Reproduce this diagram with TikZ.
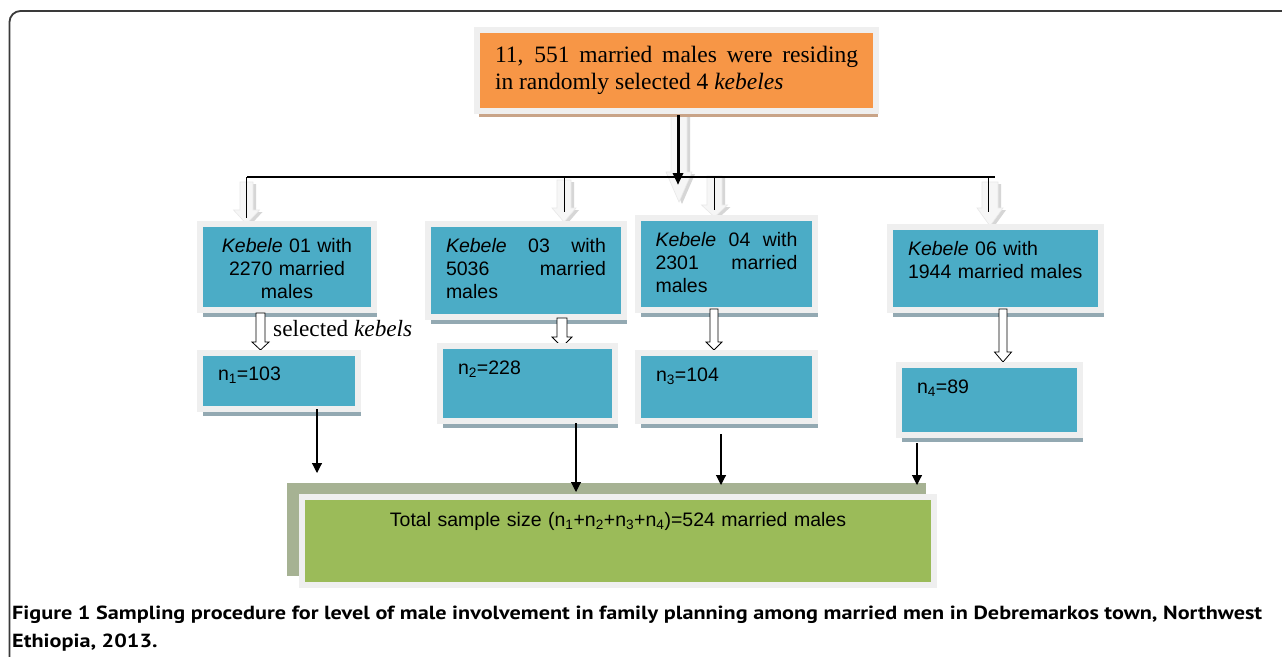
\documentclass[tikz,border=0pt]{standalone}
\usepackage{fontspec}
\usepackage{graphicx}
\setmainfont{Liberation Serif}
\setsansfont{Liberation Sans}
\newfontfamily\capfont{PT Sans}
\usetikzlibrary{arrows.meta, shadows}

\definecolor{kteal}{HTML}{4BACC6}
\definecolor{korange}{HTML}{F79646}
\definecolor{kgreen}{HTML}{9BBB59}
\definecolor{rimgray}{HTML}{EFEFEF}
\definecolor{tealshade}{HTML}{93A9B2}
\definecolor{orangeshade}{HTML}{C9A488}
\definecolor{greenback}{HTML}{A6B293}
\definecolor{framegray}{HTML}{3A3A3A}

\newlength{\caplen}
% block arrow: [style] x, top, head, tip, half shaft, half head
\newcommand{\blockarrow}[7][]{%
  \path[#1] (#2-#6,#3) -- (#2+#6,#3) -- (#2+#6,#4) -- (#2+#7,#4)
    -- (#2,#5) -- (#2-#7,#4) -- (#2-#6,#4) -- cycle;}
\newcommand{\greyarrow}[6]{%
  \blockarrow[fill=gray!32, shift={(3,2)}]{#1}{#2}{#3}{#4}{#5}{#6}%
  \blockarrow[fill=gray!7, draw=gray!18, line width=0.6pt]{#1}{#2}{#3}{#4}{#5}{#6}}

\begin{document}
\begin{tikzpicture}[x=1pt, y=-1pt,
        panel/.style={anchor=north west, draw=rimgray, line width=6pt, outer sep=0pt,
          inner ysep=0pt, inner xsep=18pt, align=left, font=\sffamily\fontsize{19.5}{23}\selectfont},
        kebele/.style={panel, fill=kteal,
          drop shadow={shadow xshift=3pt, shadow yshift=-7pt, fill=tealshade, opacity=1}},
        popbox/.style={panel, fill=korange, font=\rmfamily\fontsize{23.5}{27}\selectfont,
          drop shadow={shadow xshift=2pt, shadow yshift=-6pt, fill=orangeshade, opacity=1}},
        sumbox/.style={panel, fill=kgreen, align=center},
        hollow/.style={draw=black, fill=white, line width=0.8pt},
        forkline/.style={line width=1.3pt},
        trunk/.style={line width=3pt, -{Triangle[width=10pt, length=12pt]}},
        dropline/.style={line width=1pt},
        link/.style={line width=1.1pt, -{Triangle[width=10pt, length=10pt]}}
    ]
    \fill[white] (0,0) rectangle (1282,656);
    \useasboundingbox (0,0) rectangle (1282,656);
    \draw[framegray, line width=1.8pt, rounded corners=11pt] (1320,11) -- (9.5,11) -- (9.5,700);

    % Caption
    \node[anchor=base west, inner sep=0pt] (caption) at (12,619) {%
      \capfont\bfseries\fontsize{19}{28}\selectfont
      \settowidth{\caplen}{Figure 1 Sampling procedure for level of male involvement in family planning among married men in Debremarkos town, Northwest}%
      \edef\capscale{\fpeval{1250pt/\caplen}}%
      \scalebox{\capscale}[1]{\begin{tabular}[t]{@{}l@{}}Figure 1 Sampling procedure for level of male involvement in family planning among married men in Debremarkos town, Northwest\\ Ethiopia, 2013.\end{tabular}}};

    % Grey block arrows
    \greyarrow{679}{110}{172}{202}{8}{13}
    \greyarrow{246.5}{182}{210}{224}{6.5}{13}
    \greyarrow{564}{180}{208}{222}{7}{12}
    \greyarrow{714.5}{176}{205}{217}{7.5}{13}
    \greyarrow{990}{182}{208}{226}{8}{13}

    % Nodes
    \node[popbox, align=justify, text width=363pt, text height=32pt, text depth=49pt] (pool) at (477,30)
      {11, 551 married males were residing\linebreak in randomly selected 4 \textit{kebeles}};

    \node[kebele, text width=150pt, inner xsep=12pt, align=center, text height=28pt, text depth=58pt] (k1) at (200,224)
      {\textit{Kebele} 01 with\\2270 married\\males};
    \node[kebele, align=justify, text width=160pt, text height=28pt, text depth=65pt] (k2) at (428,224)
      {\textit{Kebele} 03 with\linebreak 5036 married\linebreak males};
    \node[kebele, align=justify, text width=142pt, inner xsep=17.5pt, text height=28pt, text depth=64pt] (k3) at (638,218)
      {\textit{Kebele} 04 with\linebreak 2301 married\linebreak males};
    \node[kebele, text width=175pt, text height=28pt, text depth=55pt] (k4) at (890,227)
      {\textit{Kebele} 06 with\\1944 married males};

    \node[anchor=base west, inner sep=0pt, font=\rmfamily\fontsize{23.3}{27}\selectfont] (pick) at (273,336)
      {selected \textit{kebels}};

    % Hollow arrows
    \blockarrow[hollow]{260.5}{313}{342}{350}{4.5}{8.5}
    \blockarrow[hollow]{562}{318}{337}{347}{5}{10}
    \blockarrow[hollow]{714}{309}{342}{350}{4}{8}
    \blockarrow[hollow]{1003}{309}{352}{362}{4}{8.5}

    \node[kebele, text width=122pt, text height=27pt, text depth=29pt] (n1) at (200,353) {n\textsubscript{1}=103};
    \node[kebele, text width=139pt, text height=28pt, text depth=47pt] (n2) at (440,346) {n\textsubscript{2}=228};
    \node[kebele, text width=141pt, text height=28pt, text depth=40pt] (n3) at (638,353) {n\textsubscript{3}=104};
    \node[kebele, text width=145pt, text height=28pt, text depth=42pt] (n4) at (899,365) {n\textsubscript{4}=89};

    \fill[greenback] (287,483) rectangle (926,576);
    \node[sumbox, text width=596pt, text height=29pt, text depth=59pt] (total) at (302,497)
      {Total sample size (n\textsubscript{1}+n\textsubscript{2}+n\textsubscript{3}+n\textsubscript{4})=524 married males};

    % Fork
    \coordinate (barL) at (247,177);
    \coordinate (barR) at (995,177);
    \coordinate (fork) at (678,185);
    \coordinate (d1) at (246,177);
    \coordinate (d2) at (564,177);
    \coordinate (d3) at (714,177);
    \coordinate (d4) at (988,177);
    \draw[forkline] (barL) -- (barR);
    \draw[trunk, shorten <=4pt] (pool.south -| fork) -- (fork);
    \draw[dropline, shorten >=6pt] (d1) -- (d1 |- k1.north);
    \draw[dropline, shorten >=12pt] (d2) -- (d2 |- k2.north);
    \draw[dropline, shorten >=8pt] (d3) -- (d3 |- k3.north);
    \draw[dropline, shorten >=15pt] (d4) -- (d4 |- k4.north);

    % Arrows
    \coordinate (t1) at (317,473);
    \coordinate (t2) at (576,492);
    \coordinate (t3) at (721,485);
    \coordinate (t4) at (917,485);
    \draw[link] (n1.south -| t1) -- (t1);
    \draw[link, shorten <=2pt] (n2.south -| t2) -- (t2);
    \draw[link, shorten <=13pt] (n3.south -| t3) -- (t3);
    \draw[link, shorten <=8pt] (n4.south -| t4) -- (t4);

\end{tikzpicture}
\end{document}
